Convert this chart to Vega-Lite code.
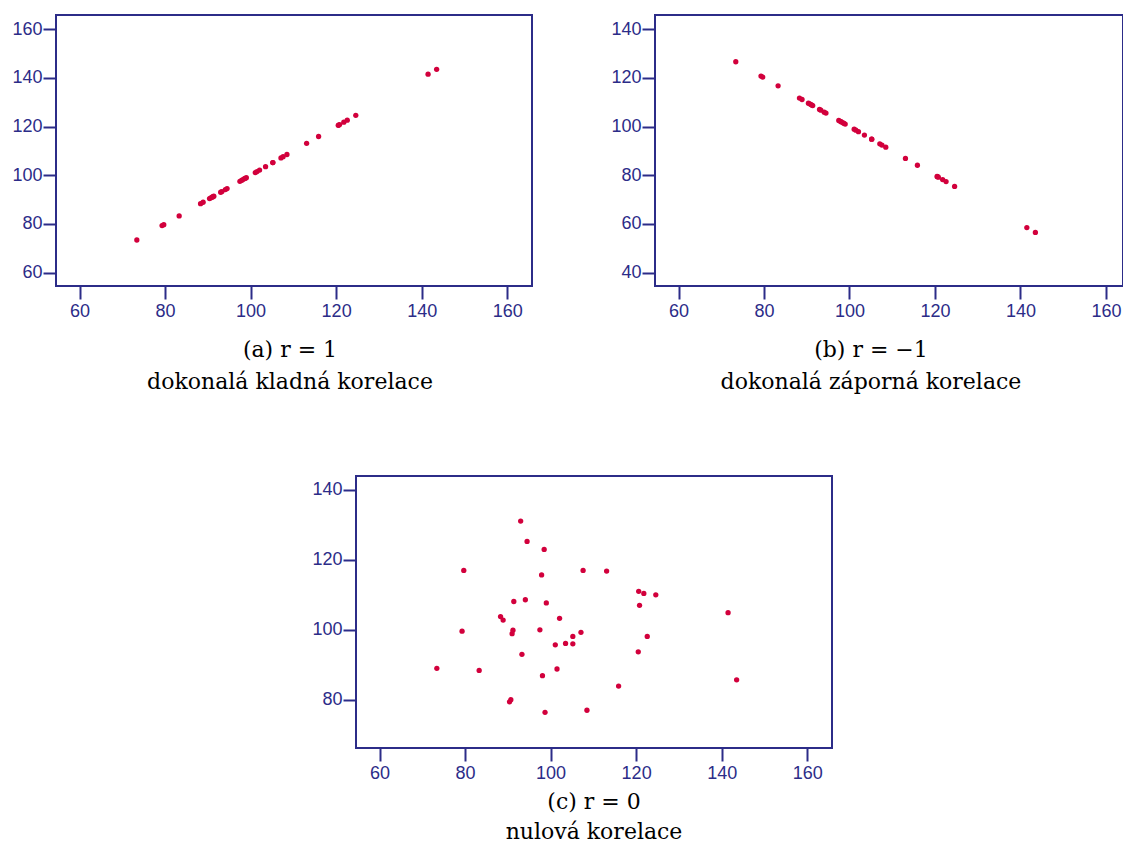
{
  "$schema": "https://vega.github.io/schema/vega-lite/v6.json",
  "padding": {"left": 10, "top": 14, "right": 0, "bottom": 0},
  "background": "white",
  "datasets": {
    "pts": [
      {"x": 73.4, "ya": 73.4, "yb": 126.6, "yc": 89.0},
      {"x": 79.3, "ya": 79.3, "yb": 120.7, "yc": 99.6},
      {"x": 79.7, "ya": 79.7, "yb": 120.3, "yc": 117.0},
      {"x": 83.3, "ya": 83.3, "yb": 116.7, "yc": 88.4},
      {"x": 88.3, "ya": 88.3, "yb": 111.7, "yc": 103.8},
      {"x": 88.9, "ya": 88.9, "yb": 111.1, "yc": 102.8},
      {"x": 90.4, "ya": 90.4, "yb": 109.6, "yc": 79.4},
      {"x": 90.7, "ya": 90.7, "yb": 109.3, "yc": 80.0},
      {"x": 91.0, "ya": 91.0, "yb": 109.0, "yc": 98.9},
      {"x": 91.2, "ya": 91.2, "yb": 108.8, "yc": 99.9},
      {"x": 91.4, "ya": 91.4, "yb": 108.6, "yc": 108.1},
      {"x": 93.0, "ya": 93.0, "yb": 107.0, "yc": 131.1},
      {"x": 93.3, "ya": 93.3, "yb": 106.7, "yc": 93.0},
      {"x": 94.1, "ya": 94.1, "yb": 105.9, "yc": 108.6},
      {"x": 94.5, "ya": 94.5, "yb": 105.5, "yc": 125.3},
      {"x": 97.5, "ya": 97.5, "yb": 102.5, "yc": 100.0},
      {"x": 97.9, "ya": 97.9, "yb": 102.1, "yc": 115.7},
      {"x": 98.1, "ya": 98.1, "yb": 101.9, "yc": 86.9},
      {"x": 98.5, "ya": 98.5, "yb": 101.5, "yc": 123.0},
      {"x": 98.7, "ya": 98.7, "yb": 101.3, "yc": 76.4},
      {"x": 99.0, "ya": 99.0, "yb": 101.0, "yc": 107.7},
      {"x": 101.1, "ya": 101.1, "yb": 98.9, "yc": 95.7},
      {"x": 101.5, "ya": 101.5, "yb": 98.5, "yc": 88.8},
      {"x": 102.1, "ya": 102.1, "yb": 97.9, "yc": 103.3},
      {"x": 103.5, "ya": 103.5, "yb": 96.5, "yc": 96.1},
      {"x": 105.2, "ya": 105.2, "yb": 94.8, "yc": 98.1},
      {"x": 105.2, "ya": 105.2, "yb": 94.8, "yc": 96.0},
      {"x": 107.1, "ya": 107.1, "yb": 92.9, "yc": 99.3},
      {"x": 107.6, "ya": 107.6, "yb": 92.4, "yc": 117.0},
      {"x": 108.5, "ya": 108.5, "yb": 91.5, "yc": 77.0},
      {"x": 113.1, "ya": 113.1, "yb": 86.9, "yc": 116.8},
      {"x": 115.9, "ya": 115.9, "yb": 84.1, "yc": 83.9},
      {"x": 120.5, "ya": 120.5, "yb": 79.5, "yc": 93.7},
      {"x": 120.6, "ya": 120.6, "yb": 79.4, "yc": 111.0},
      {"x": 120.8, "ya": 120.8, "yb": 79.2, "yc": 107.0},
      {"x": 121.8, "ya": 121.8, "yb": 78.2, "yc": 110.4},
      {"x": 122.6, "ya": 122.6, "yb": 77.4, "yc": 98.1},
      {"x": 124.6, "ya": 124.6, "yb": 75.4, "yc": 110.0},
      {"x": 141.5, "ya": 141.5, "yb": 58.5, "yc": 104.9},
      {"x": 143.5, "ya": 143.5, "yb": 56.5, "yc": 85.7}
    ]
  },
  "vconcat": [
    {
      "hconcat": [
        {
          "width": 476,
          "height": 271,
          "data": {"name": "pts"},
          "mark": {"type": "circle", "size": 28, "opacity": 1, "color": "#d2003c"},
          "encoding": {
            "x": {"field": "x", "type": "quantitative", "title": null,
                  "scale": {"domain": [54.5, 165.8], "nice": false, "zero": false},
                  "axis": {"values": [60, 80, 100, 120, 140, 160]}},
            "y": {"field": "ya", "type": "quantitative", "title": null,
                  "scale": {"domain": [54.5, 165.8], "nice": false, "zero": false},
                  "axis": {"values": [60, 80, 100, 120, 140, 160]}}
          },
          "title": {"text": "(a) r = 1", "subtitle": "dokonalá kladná korelace", "frame": "group", "dx": -4, "offset": 20, "subtitlePadding": 10}
        },
        {
          "width": 468,
          "height": 271,
          "data": {"name": "pts"},
          "mark": {"type": "circle", "size": 28, "opacity": 1, "color": "#d2003c"},
          "encoding": {
            "x": {"field": "x", "type": "quantitative", "title": null,
                  "scale": {"domain": [54.5, 164.0], "nice": false, "zero": false},
                  "axis": {"values": [60, 80, 100, 120, 140, 160]}},
            "y": {"field": "yb", "type": "quantitative", "title": null,
                  "scale": {"domain": [34.5, 145.8], "nice": false, "zero": false},
                  "axis": {"values": [40, 60, 80, 100, 120, 140]}}
          },
          "title": {"text": "(b) r = −1", "subtitle": "dokonalá záporná korelace", "frame": "bounds", "dx": 4, "offset": 20, "subtitlePadding": 10}
        }
      ],
      "spacing": 123,
      "bounds": "flush"
    },
    {
      "hconcat": [
        {
          "width": 300,
          "height": 1,
          "data": {"values": []},
          "mark": {"type": "point"},
          "encoding": {},
          "view": {"stroke": null}
        },
        {
          "width": 476,
          "height": 272,
          "data": {"name": "pts"},
          "mark": {"type": "circle", "size": 28, "opacity": 1, "color": "#d2003c"},
          "encoding": {
            "x": {"field": "x", "type": "quantitative", "title": null,
                  "scale": {"domain": [54.5, 165.8], "nice": false, "zero": false},
                  "axis": {"values": [60, 80, 100, 120, 140, 160]}},
            "y": {"field": "yc", "type": "quantitative", "title": null,
                  "scale": {"domain": [66.2, 144.0], "nice": false, "zero": false},
                  "axis": {"values": [80, 100, 120, 140]}}
          },
          "title": {"text": "(c) r = 0", "subtitle": "nulová korelace", "frame": "group", "offset": 10, "subtitlePadding": 8}
        }
      ],
      "spacing": 0,
      "bounds": "flush"
    }
  ],
  "spacing": 81,
  "config": {
    "view": {"stroke": "#2c2c88", "strokeWidth": 2},
    "axis": {
      "grid": false,
      "domain": false,
      "ticks": true,
      "tickSize": 13,
      "tickWidth": 2,
      "tickColor": "#2c2c88",
      "labelColor": "#2c2c88",
      "labelFont": "Liberation Sans",
      "labelFontSize": 18,
      "labelPadding": 1
    },
    "axisX": {"labelPadding": 3},
    "title": {
      "orient": "bottom",
      "anchor": "middle",
      "font": "DejaVu Serif",
      "fontSize": 22,
      "fontWeight": "normal",
      "color": "black",
      "subtitleFont": "DejaVu Serif",
      "subtitleFontSize": 22,
      "subtitleColor": "black"
    }
  }
}
